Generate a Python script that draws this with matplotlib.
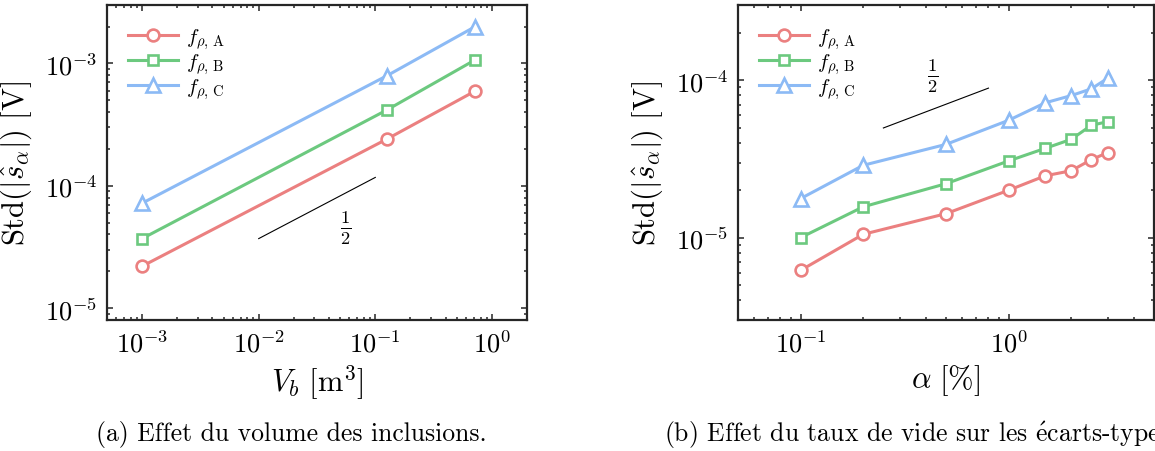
import numpy as np
import matplotlib
matplotlib.use('Agg')
import matplotlib.pyplot as plt

# ----------------------
# style
# ----------------------
plt.rcParams['mathtext.fontset'] = 'cm'
plt.rcParams['font.family'] = ['cmr10', 'DejaVu Serif']
plt.rcParams['axes.formatter.use_mathtext'] = True
plt.rcParams['axes.unicode_minus'] = False

red = '#EB8080'
green = '#6CC97F'
blue = '#8CBAF5'
spine_col = '#262626'

# ----------------------
# data (a) : volume des inclusions
# ----------------------
vb = [1e-3, 0.125, 0.72]
vb_a = [2.2e-5, 2.4e-4, 5.95e-4]
vb_b = [3.7e-5, 4.15e-4, 1.07e-3]
vb_c = [7.2e-5, 7.9e-4, 2.0e-3]

# ----------------------
# data (b) : taux de vide
# ----------------------
alpha = [0.1, 0.2, 0.5, 1.0, 1.5, 2.0, 2.5, 3.0]
al_a = [6.2e-6, 1.05e-5, 1.42e-5, 2.0e-5, 2.47e-5, 2.66e-5, 3.13e-5, 3.47e-5]
al_b = [1.0e-5, 1.57e-5, 2.2e-5, 3.07e-5, 3.69e-5, 4.21e-5, 5.17e-5, 5.45e-5]
al_c = [1.77e-5, 2.88e-5, 3.91e-5, 5.56e-5, 7.18e-5, 7.98e-5, 8.81e-5, 1.03e-4]

labels = [r'$f_{\rho,\,\mathrm{A}}$', r'$f_{\rho,\,\mathrm{B}}$', r'$f_{\rho,\,\mathrm{C}}$']

# slope 1/2 guide lines
slope_a_x = [0.01, 0.1]
slope_a_y = [3.7e-5, 1.17e-4]
slope_b_x = [0.25, 0.8]
slope_b_y = [4.97e-5, 8.9e-5]

fig = plt.figure(figsize=(11.55, 4.52), dpi=100)
ax1 = fig.add_axes([107 / 1155, 131 / 452, 420 / 1155, 315 / 452])
ax2 = fig.add_axes([738 / 1155, 131 / 452, 416 / 1155, 315 / 452])


def draw_series(ax, x, ya, yb, yc):
    ax.plot(x, ya, '-o', color=red, lw=2.2, ms=8.5, mew=1.9, mfc='white', label=labels[0])
    ax.plot(x, yb, '-s', color=green, lw=2.2, ms=6.5, mew=1.9, mfc='white', label=labels[1])
    ax.plot(x, yc, '-^', color=blue, lw=2.2, ms=9.5, mew=1.9, mfc='white', label=labels[2])


def style_axes(ax):
    ax.set_xscale('log')
    ax.set_yscale('log')
    for s in ax.spines.values():
        s.set_linewidth(1.6)
        s.set_color(spine_col)
    ax.tick_params(which='both', direction='in', top=True, right=True,
                   color=spine_col, width=1.1)
    ax.tick_params(which='major', length=4.5, labelsize=19, pad=7)
    ax.tick_params(which='minor', length=2.5)
    ax.legend(loc='upper left', frameon=False, fontsize=15, handlelength=2.4,
              labelspacing=0.0, borderaxespad=0.6, handletextpad=0.4)


draw_series(ax1, vb, vb_a, vb_b, vb_c)
ax1.plot(slope_a_x, slope_a_y, color='black', lw=0.8)
ax1.text(0.056, 4.6e-5, r'$\frac{1}{2}$', fontsize=19, ha='center', va='center')
style_axes(ax1)
ax1.set_xlim(5e-4, 2)
ax1.set_ylim(8e-6, 3e-3)
ax1.set_xlabel(r'$V_b\ [\mathrm{m}^3]$', fontsize=22, labelpad=4)
ax1.set_ylabel(r'$\mathrm{Std}(|\hat{s}_\alpha|)\ [\mathrm{V}]$', fontsize=22, labelpad=8)

draw_series(ax2, alpha, al_a, al_b, al_c)
ax2.plot(slope_b_x, slope_b_y, color='black', lw=0.8)
ax2.text(0.43, 1.07e-4, r'$\frac{1}{2}$', fontsize=19, ha='center', va='center')
style_axes(ax2)
ax2.set_xlim(0.05, 5)
ax2.set_ylim(3e-6, 3e-4)
ax2.set_xlabel(r'$\alpha\ [\%]$', fontsize=22, labelpad=4)
ax2.set_ylabel(r'$\mathrm{Std}(|\hat{s}_\alpha|)\ [\mathrm{V}]$', fontsize=22, labelpad=8)

# captions
fig.text(291 / 1155, 1 - 435 / 452, '(a) Effet du volume des inclusions.',
         fontsize=18.5, ha='center', va='center')
fig.text(664 / 1155, 1 - 435 / 452,
         r'(b) Effet du taux de vide sur les $\acute{\mathrm{e}}$carts-types.',
         fontsize=18.5, ha='left', va='center')

fig.savefig('out.png', dpi=100)
plt.close(fig)
